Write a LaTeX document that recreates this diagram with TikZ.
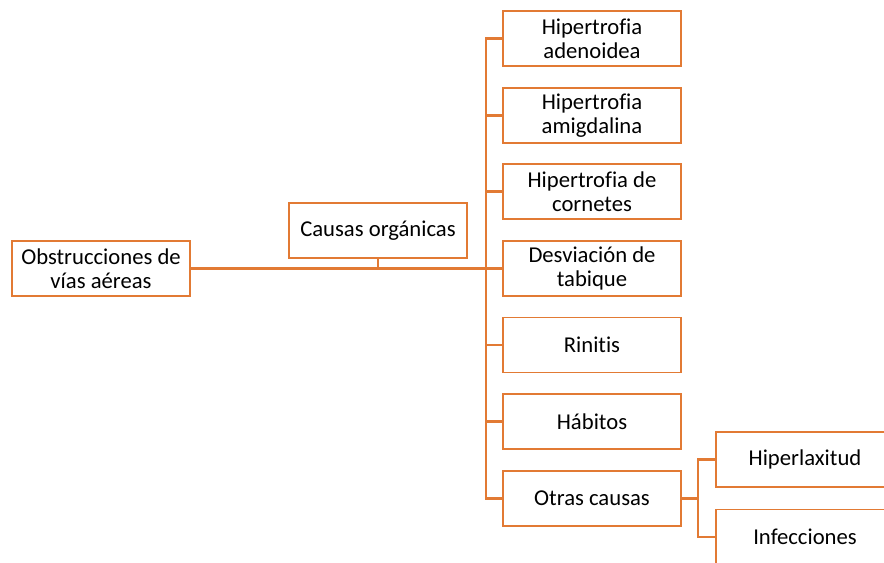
\documentclass[tikz,border=0pt]{standalone}
\usepackage{fontspec}
\setmainfont[Ligatures={NoCommon}]{Carlito}
\definecolor{naranja}{RGB}{226,122,52}
\begin{document}
\begin{tikzpicture}
  [x=0.02cm,y=-0.02cm,
   every node/.style={draw=naranja,line width=1.1pt,fill=white,
     minimum width=3.56cm,minimum height=1.1cm,align=center,
     font=\fontsize{12.9}{13.8}\selectfont,inner sep=2pt},
   rama/.style={draw=naranja,line width=1.5pt}]
  \useasboundingbox (0,0) rectangle (884,563);
  \clip (0,0) rectangle (884,563);

  \coordinate (tr) at (486,268.5);
  \coordinate (sp) at (698,498.5);

  \node (raiz) at (101,268.5) {Obstrucciones de\\vías aéreas};
  \node (org) at (378,230.5) {Causas orgánicas};

  \node (c1) at (592,38.5)  {Hipertrofia\\adenoidea};
  \node (c2) at (592,115.5) {Hipertrofia\\amigdalina};
  \node (c3) at (592,191.5) {Hipertrofia de\\cornetes};
  \node (c4) at (592,268.5) {Desviación de\\tabique};
  \node (c5) at (592,345)   {Rinitis};
  \node (c6) at (592,421.5) {Hábitos};
  \node (c7) at (592,498.5) {Otras causas};

  \node (h1) at (805,459.5) {Hiperlaxitud};
  \node (h2) at (805,537)   {Infecciones};

\path[rama]
    (raiz.east) -- (tr)
    (org.south) -- (org.south |- tr)
    (tr) |- (c1.west)
    (tr) |- (c2.west)
    (tr) |- (c3.west)
    (tr) -- (c4.west)
    (tr) |- (c5.west)
    (tr) |- (c6.west)
    (tr) |- (c7.west)
    (c7.east) -- (sp)
    (sp) |- (h1.west)
    (sp) |- (h2.west)
    ;

\end{tikzpicture}
\end{document}
